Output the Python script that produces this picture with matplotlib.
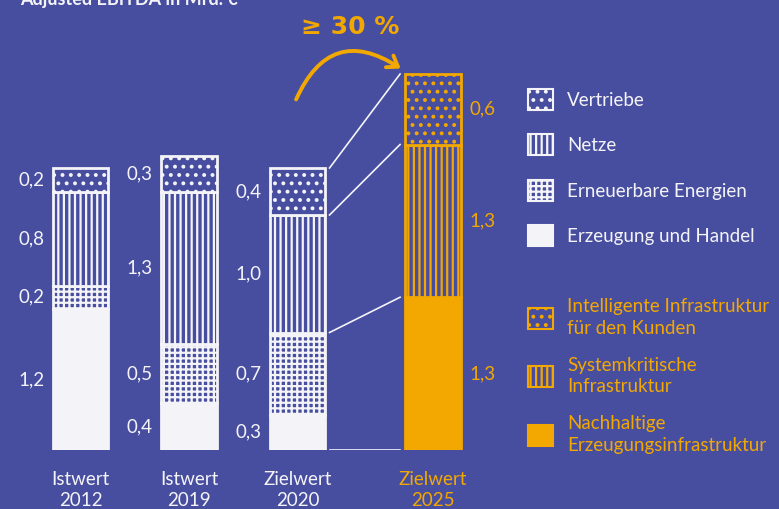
import matplotlib
matplotlib.use("Agg")
import matplotlib.pyplot as plt
from matplotlib.patches import Patch, FancyArrowPatch
import numpy as np

# ---------------- data ----------------
categories = ["Istwert\n2012", "Istwert\n2019", "Zielwert\n2020", "Zielwert\n2025"]
# historical segments (bottom -> top)
erzeugung = [1.2, 0.4, 0.3]
erneuerbare = [0.2, 0.5, 0.7]
netze = [0.8, 1.3, 1.0]
vertriebe = [0.2, 0.3, 0.4]
hist_names = ["Erzeugung und Handel", "Erneuerbare Energien", "Netze", "Vertriebe"]
# 2025 target segments (bottom -> top)
nachhaltige = 1.3
systemkritische = 1.3
intelligente = 0.6
target_names = ["Nachhaltige\nErzeugungsinfrastruktur", "Systemkritische\nInfrastruktur",
                "Intelligente Infrastruktur\nfür den Kunden"]
title = "Adjusted EBITDA in Mrd. €"
growth_label = "≥ 30 %"

# ---------------- style ----------------
BG = "#484E9F"
OR = "#F2A800"
WH = "#F4F4F8"
FONT = "Lato"
plt.rcParams["hatch.linewidth"] = 1.6
plt.rcParams["font.family"] = [FONT, "DejaVu Sans"]

W, H = 779, 509
fig = plt.figure(figsize=(W / 100, H / 100), dpi=100, facecolor=BG)
ax = fig.add_axes([0, 59 / H, 500 / W, 450 / H])
ax.set_facecolor(BG)
for s in ax.spines.values():
    s.set_visible(False)

xpos = [0, 1, 2, 3.25]
width = 0.51
ax.set_xlim(-0.742, 3.866)
ax.set_ylim(0, 450 / 117.5)
ax.set_yticks([])

def fmt(v):
    return f"{v:.1f}".replace(".", ",")

VFS = 13.5

# historical bars
hist_series = [erzeugung, erneuerbare, netze, vertriebe]
hatches = [None, "+++", "|||", ".."]
x_hist = xpos[:3]
bottom = np.zeros(3)
for vals, hatch in zip(hist_series, hatches):
    vals = np.array(vals)
    if hatch is None:
        ax.bar(x_hist, vals, width, bottom=bottom, color=WH, edgecolor=WH, linewidth=2)
    else:
        ax.bar(x_hist, vals, width, bottom=bottom, facecolor=BG, edgecolor=WH,
               hatch=hatch, linewidth=2)
    for x, v, b in zip(x_hist, vals, bottom):
        ax.text(x - width / 2 - 0.08, b + v / 2, fmt(v), ha="right", va="center",
                color=WH, fontsize=VFS)
    bottom = bottom + vals

# 2025 target bar
target_vals = [nachhaltige, systemkritische, intelligente]
target_hatches = [None, "|||", ".."]
b = 0.0
for v, hatch in zip(target_vals, target_hatches):
    if hatch is None:
        ax.bar(xpos[3], v, width, bottom=b, color=OR, edgecolor=OR, linewidth=2)
    else:
        ax.bar(xpos[3], v, width, bottom=b, facecolor=BG, edgecolor=OR, hatch=hatch, linewidth=2)
    ax.text(xpos[3] + width / 2 + 0.08, b + v / 2, fmt(v), ha="left", va="center",
            color=OR, fontsize=VFS)
    b += v

# connector lines between 2020 and 2025
b3 = np.cumsum([0, erzeugung[2] + erneuerbare[2], netze[2], vertriebe[2]])
b4 = np.cumsum([0] + target_vals)
x0 = xpos[2] + width / 2 + 0.04
x1 = xpos[3] - width / 2 - 0.05
for ya, yb in zip(b3, b4):
    ax.plot([x0, x1], [ya, yb], color=WH, lw=1.2)

# category labels
ax.set_xticks(xpos)
ax.set_xticklabels(categories, fontsize=VFS, linespacing=1.3)
ax.tick_params(axis="x", length=0, pad=15)
for i, lbl in enumerate(ax.get_xticklabels()):
    lbl.set_color(OR if i == 3 else WH)

# title (partly cut off at top, as in the reference)
fig.text(20 / W, 1 - 5 / H, title, color=WH, fontsize=13, fontweight="bold",
         ha="left", va="baseline")

# growth arrow and label
arrow = FancyArrowPatch((295 / W, 1 - 102 / H), (403 / W, 1 - 70 / H),
                        transform=fig.transFigure,
                        connectionstyle="arc3,rad=-0.6",
                        arrowstyle="->,head_length=7,head_width=5",
                        color=OR, lw=2.8)
fig.add_artist(arrow)
fig.text(350 / W, 1 - 27 / H, growth_label, color=OR, fontsize=18, fontweight="bold",
         ha="center", va="center", family=["DejaVu Sans"])

# legends
fs = 13.5
h1 = [Patch(facecolor=BG, edgecolor=WH, hatch="..", lw=1.5),
      Patch(facecolor=BG, edgecolor=WH, hatch="|||", lw=1.5),
      Patch(facecolor=BG, edgecolor=WH, hatch="+++", lw=1.5),
      Patch(facecolor=WH, edgecolor=WH, lw=1.5)]
leg1 = fig.legend(h1, hist_names[::-1], loc="upper left",
                  bbox_to_anchor=(528 / W, 1 - 89 / H), bbox_transform=fig.transFigure,
                  frameon=False, fontsize=fs, labelcolor=WH, handlelength=1.35,
                  handleheight=1.35, handletextpad=0.75, labelspacing=1.3,
                  borderpad=0, borderaxespad=0)
h2 = [Patch(facecolor=BG, edgecolor=OR, hatch="..", lw=1.5),
      Patch(facecolor=BG, edgecolor=OR, hatch="|||", lw=1.5),
      Patch(facecolor=OR, edgecolor=OR, lw=1.5)]
leg2 = fig.legend(h2, target_names[::-1], loc="upper left",
                  bbox_to_anchor=(528 / W, 1 - 298 / H), bbox_transform=fig.transFigure,
                  frameon=False, fontsize=fs, labelcolor=OR, handlelength=1.35,
                  handleheight=1.35, handletextpad=0.75, labelspacing=1.05,
                  borderpad=0, borderaxespad=0)
for t in leg2.get_texts():
    t.set_linespacing(1.35)

fig.savefig("out.png", dpi=100, facecolor=BG)
